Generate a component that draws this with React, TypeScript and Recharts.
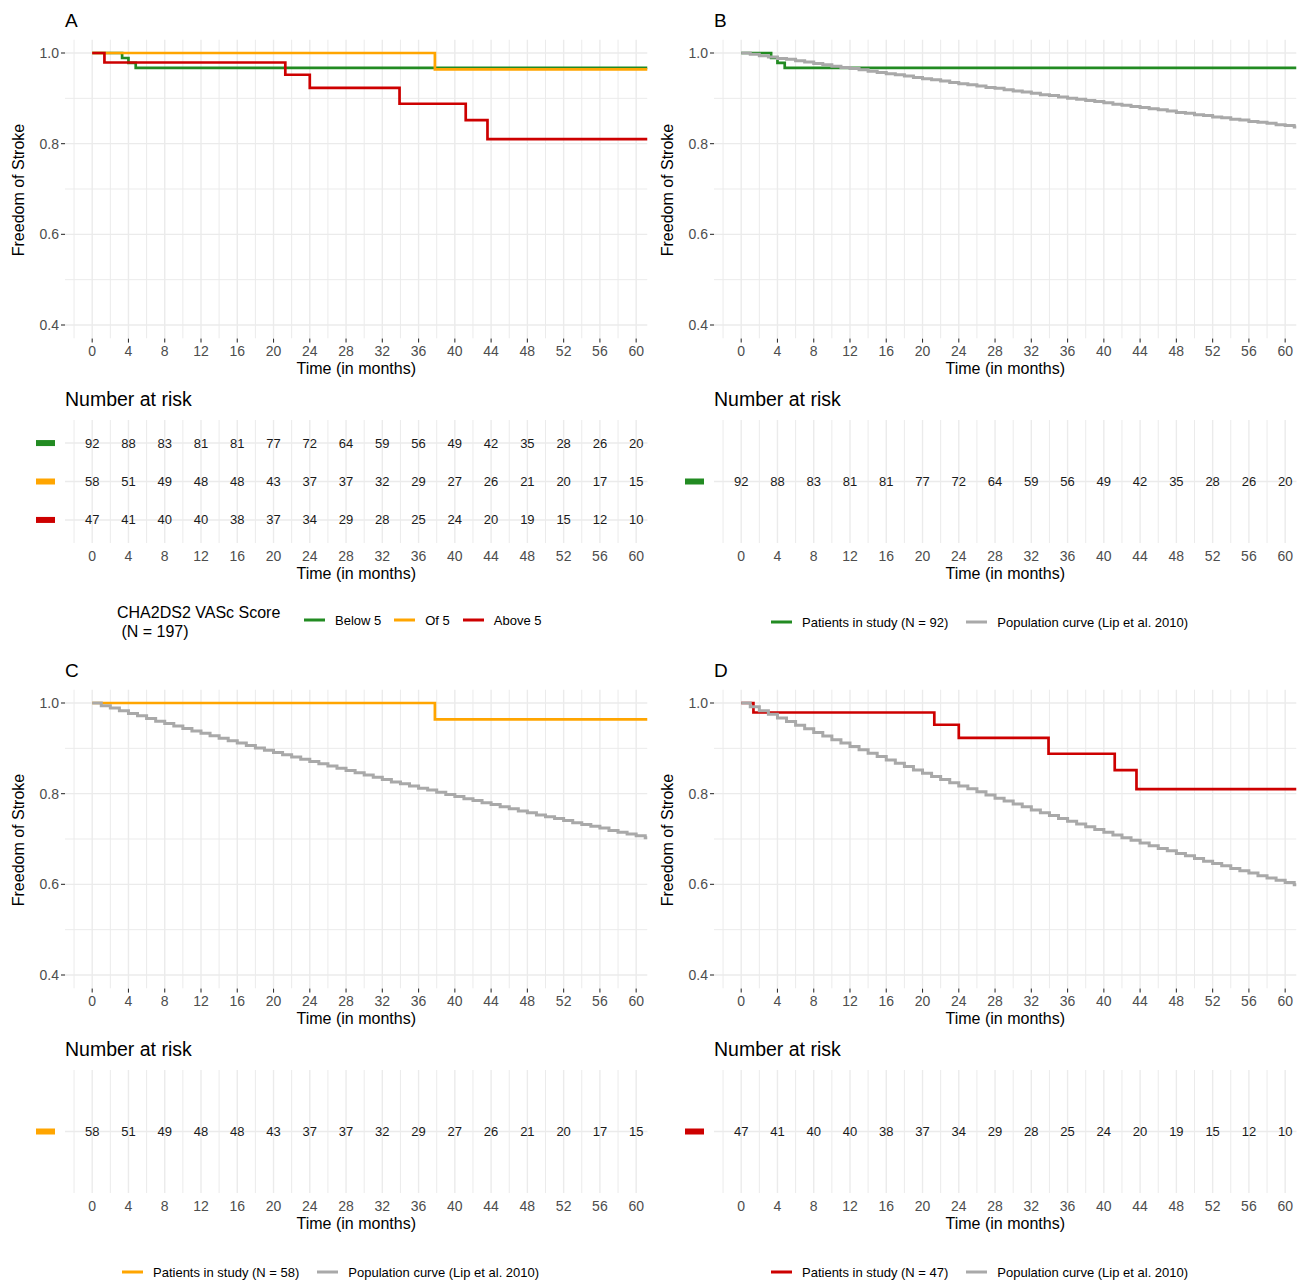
import React from 'react';
import { LineChart, Line, XAxis, YAxis, ReferenceLine, ScatterChart, Scatter } from 'recharts';

// ----------------------------------------------------------------------

const FONT = '"Liberation Sans", Arial, Helvetica, sans-serif';

const monthTicks = [0, 4, 8, 12, 16, 20, 24, 28, 32, 36, 40, 44, 48, 52, 56, 60];
const monthGrid = [-2, 0, 2, 4, 6, 8, 10, 12, 14, 16, 18, 20, 22, 24, 26, 28, 30, 32, 34, 36, 38, 40, 42, 44, 46, 48, 50, 52, 54, 56, 58, 60];
const survTicks = [0.4, 0.6, 0.8, 1.0];
const survGrid = [0.4, 0.5, 0.6, 0.7, 0.8, 0.9, 1.0];

const X_MIN = -3;
const X_MAX = 61.25;

// Kaplan-Meier steps: time (months) / freedom of stroke
const below5Times = [0, 3.3, 4.0, 4.8, X_MAX];
const below5Surv = [1, 0.989, 0.978, 0.967, 0.967];
const of5Times = [0, 37.8, X_MAX];
const of5Surv = [1, 0.964, 0.964];
const above5Times = [0, 1.35, 21.3, 24.0, 33.9, 41.2, 43.6, X_MAX];
const above5Surv = [1, 0.979, 0.952, 0.923, 0.888, 0.852, 0.81, 0.81];

// population curves (Lip et al. 2010), one value per month from 0 to 61
const popBelow5 = [
  1.0, 0.997, 0.994, 0.991, 0.988, 0.986, 0.983, 0.98, 0.977, 0.974, 0.971, 0.968, 0.966, 0.963, 0.96, 0.957,
  0.954, 0.952, 0.949, 0.946, 0.943, 0.941, 0.938, 0.935, 0.932, 0.93, 0.927, 0.924, 0.922, 0.919, 0.916, 0.914,
  0.911, 0.908, 0.906, 0.903, 0.9, 0.898, 0.895, 0.893, 0.89, 0.887, 0.885, 0.882, 0.88, 0.877, 0.875, 0.872,
  0.869, 0.867, 0.864, 0.862, 0.859, 0.857, 0.854, 0.852, 0.849, 0.847, 0.845, 0.842, 0.84, 0.837,
];
const popOf5 = [
  1.0, 0.994, 0.989, 0.983, 0.977, 0.972, 0.966, 0.96, 0.955, 0.949, 0.944, 0.938, 0.933, 0.928, 0.922, 0.917,
  0.912, 0.906, 0.901, 0.896, 0.891, 0.886, 0.881, 0.876, 0.871, 0.866, 0.861, 0.856, 0.851, 0.846, 0.841, 0.836,
  0.831, 0.826, 0.822, 0.817, 0.812, 0.808, 0.803, 0.798, 0.794, 0.789, 0.785, 0.78, 0.776, 0.771, 0.767, 0.762,
  0.758, 0.753, 0.749, 0.745, 0.741, 0.736, 0.732, 0.728, 0.724, 0.719, 0.715, 0.711, 0.707, 0.703,
];
const popAbove5 = [
  1.0, 0.992, 0.983, 0.975, 0.967, 0.959, 0.951, 0.943, 0.935, 0.927, 0.919, 0.912, 0.904, 0.897, 0.889, 0.882,
  0.874, 0.867, 0.86, 0.852, 0.845, 0.838, 0.831, 0.824, 0.817, 0.811, 0.804, 0.797, 0.79, 0.784, 0.777, 0.771,
  0.764, 0.758, 0.752, 0.745, 0.739, 0.733, 0.727, 0.721, 0.715, 0.709, 0.703, 0.697, 0.691, 0.685, 0.679, 0.674,
  0.668, 0.663, 0.657, 0.651, 0.646, 0.641, 0.635, 0.63, 0.625, 0.619, 0.614, 0.609, 0.604, 0.599,
];

// number at risk at 0, 4, ..., 60 months
const riskBelow5 = [92, 88, 83, 81, 81, 77, 72, 64, 59, 56, 49, 42, 35, 28, 26, 20];
const riskOf5 = [58, 51, 49, 48, 48, 43, 37, 37, 32, 29, 27, 26, 21, 20, 17, 15];
const riskAbove5 = [47, 41, 40, 40, 38, 37, 34, 29, 28, 25, 24, 20, 19, 15, 12, 10];

const GREEN = '#228B22';
const ORANGE = '#FFA500';
const RED = '#CD0000';
const GRAY = '#A9A9A9';

// ----------------------------------------------------------------------

interface Curve {
  key: string;
  data: { t: number; s: number }[];
  color: string;
  width: number;
}

interface RiskRow {
  color: string;
  values: number[];
}

const steps = (times: number[], surv: number[]) => times.map((t, i) => ({ t, s: surv[i] }));
const monthly = (vals: number[]) => [...vals.map((s, t) => ({ s, t })), { s: vals[vals.length - 1], t: X_MAX }];

const isMajorY = (v: number) => Math.abs(v * 5 - Math.round(v * 5)) < 1e-6;

const gridX = () =>
  monthGrid.map(v => (
    <ReferenceLine
      ifOverflow='hidden'
      key={'gx' + v}
      stroke='#EBEBEB'
      strokeWidth={v % 4 === 0 ? 1.4 : 1}
      x={v}
      zIndex={-100}
    />
  ));

const tickText = { fill: '#4D4D4D', fontSize: 14 };
const titleLabel = (value: string) => ({ fill: '#000', fontSize: 16, offset: 6, position: 'insideBottom' as const, value });

function Quadrant({ left, top, letter, curves, rows, legend }: {
  left: number;
  top: number;
  letter: string;
  curves: Curve[];
  rows: RiskRow[];
  legend: React.ReactNode;
}) {
  const n = rows.length;
  const rowTick = (props: any) => {
    const { x, y, payload } = props;
    const row = rows[n - payload.value];
    return <rect fill={row.color} height={6} width={19} x={x - 19} y={y - 3} />;
  };

  return (
    <div style={{ height: 650, left, position: 'absolute', top, width: 649 }}>
      <div style={{ color: '#000', fontSize: 19, left: 65, lineHeight: 1, position: 'absolute', top: 20, transform: 'translateY(-50%)' }}>
        {letter}
      </div>
      <div
        style={{
          color: '#000',
          fontSize: 16,
          left: 19,
          lineHeight: 1,
          position: 'absolute',
          top: 190,
          transform: 'translate(-50%, -50%) rotate(-90deg)',
          whiteSpace: 'nowrap',
        }}
      >
        Freedom of Stroke
      </div>

      <div style={{ left: 0, position: 'absolute', top: 0 }}>
        <LineChart height={380} margin={{ bottom: 0, left: 5, right: 1.5, top: 39.4 }} width={649}>
          {gridX()}
          {survGrid.map(v => (
            <ReferenceLine
              ifOverflow='hidden'
              key={'gy' + v}
              stroke='#EBEBEB'
              strokeWidth={isMajorY(v) ? 1.4 : 1}
              y={v}
              zIndex={-100}
            />
          ))}
          <XAxis
            allowDataOverflow
            axisLine={false}
            dataKey='t'
            domain={[X_MIN, X_MAX]}
            height={41.4}
            interval={0}
            label={titleLabel('Time (in months)')}
            tick={tickText}
            tickLine={{ stroke: '#333333', strokeWidth: 1.1 }}
            tickMargin={3}
            tickSize={4}
            ticks={monthTicks}
            type='number'
          />
          <YAxis
            allowDataOverflow
            axisLine={false}
            dataKey='s'
            domain={[0.37, 1.03]}
            interval={0}
            tick={tickText}
            tickFormatter={(v: number) => v.toFixed(1)}
            tickLine={{ stroke: '#333333', strokeWidth: 1.1 }}
            tickMargin={2}
            tickSize={4}
            ticks={survTicks}
            type='number'
            width={60}
          />
          {curves.map(c => (
            <Line
              activeDot={false}
              data={c.data}
              dataKey='s'
              dot={false}
              isAnimationActive={false}
              key={c.key}
              stroke={c.color}
              strokeWidth={c.width}
              type='stepAfter'
            />
          ))}
        </LineChart>
      </div>

      <div style={{ color: '#000', fontSize: 19.5, left: 65, lineHeight: 1, position: 'absolute', top: 400, transform: 'translateY(-50%)' }}>
        Number at risk
      </div>

      <div style={{ left: 0, position: 'absolute', top: 380 }}>
        <ScatterChart height={205} margin={{ bottom: 0, left: 5, right: 1.5, top: 40 }} width={649}>
          {gridX()}
          {rows.map((_, i) => (
            <ReferenceLine key={'ry' + i} stroke='#EBEBEB' strokeWidth={1.4} y={n - i} zIndex={-100} />
          ))}
          <XAxis
            allowDataOverflow
            axisLine={false}
            dataKey='t'
            domain={[X_MIN, X_MAX]}
            height={42}
            interval={0}
            label={titleLabel('Time (in months)')}
            tick={tickText}
            tickLine={false}
            tickMargin={8}
            tickSize={0}
            ticks={monthTicks}
            type='number'
          />
          <YAxis
            axisLine={false}
            dataKey='row'
            domain={[0.4, n + 0.6]}
            interval={0}
            tick={rowTick}
            tickLine={false}
            tickMargin={10}
            tickSize={0}
            ticks={rows.map((_, i) => i + 1)}
            type='number'
            width={60}
          />
          {rows.map((r, i) => (
            <Scatter
              data={monthTicks.map((t, k) => ({ n: r.values[k], row: n - i, t }))}
              isAnimationActive={false}
              key={'rs' + i}
              shape={(p: any) => (
                <text dy='0.35em' fill='#1A1A1A' fontSize={13} textAnchor='middle' x={p.cx} y={p.cy}>
                  {p.payload.n}
                </text>
              )}
            />
          ))}
        </ScatterChart>
      </div>

      {legend}
    </div>
  );
}

const LegendKey = ({ color }: { color: string }) => (
  <span style={{ background: color, display: 'inline-block', height: 3, marginRight: 10, width: 21 }} />
);

const LegendItem = ({ color, text, gap }: { color: string; text: string; gap: number }) => (
  <span style={{ alignItems: 'center', display: 'inline-flex', marginRight: gap }}>
    <LegendKey color={color} />
    <span style={{ whiteSpace: 'nowrap' }}>{text}</span>
  </span>
);

const studyLegend = (color: string, n: number) => (
  <div
    style={{
      alignItems: 'center',
      color: '#000',
      display: 'flex',
      fontSize: 13,
      left: 122,
      lineHeight: 1,
      position: 'absolute',
      top: 622,
      transform: 'translateY(-50%)',
    }}
  >
    <LegendItem color={color} gap={18} text={`Patients in study (N = ${n})`} />
    <LegendItem color={GRAY} gap={0} text='Population curve (Lip et al. 2010)' />
  </div>
);

const scoreLegend = (
  <div style={{ color: '#000', left: 117, position: 'absolute', top: 603 }}>
    <div style={{ fontSize: 16, lineHeight: '19px', whiteSpace: 'pre' }}>{'CHA2DS2 VASc Score\n (N = 197)'}</div>
    <div
      style={{
        alignItems: 'center',
        display: 'flex',
        fontSize: 13,
        left: 187,
        lineHeight: 1,
        position: 'absolute',
        top: 17,
        transform: 'translateY(-50%)',
      }}
    >
      <LegendItem color={GREEN} gap={13} text='Below 5' />
      <LegendItem color={ORANGE} gap={13} text='Of 5' />
      <LegendItem color={RED} gap={0} text='Above 5' />
    </div>
  </div>
);

export default function App() {
  const PW = 2.7;
  const GW = 3;
  return (
    <div style={{ background: '#fff', fontFamily: FONT, height: 1281, left: 0, overflow: 'hidden', position: 'absolute', top: 0, width: 1297 }}>
      <Quadrant
        curves={[
          { color: GREEN, data: steps(below5Times, below5Surv), key: 'g', width: PW },
          { color: ORANGE, data: steps(of5Times, of5Surv), key: 'o', width: PW },
          { color: RED, data: steps(above5Times, above5Surv), key: 'r', width: PW },
        ]}
        left={0}
        legend={scoreLegend}
        letter='A'
        rows={[
          { color: GREEN, values: riskBelow5 },
          { color: ORANGE, values: riskOf5 },
          { color: RED, values: riskAbove5 },
        ]}
        top={0}
      />
      <Quadrant
        curves={[
          { color: GREEN, data: steps(below5Times, below5Surv), key: 'g', width: PW },
          { color: GRAY, data: monthly(popBelow5), key: 'p', width: GW },
        ]}
        left={649}
        legend={studyLegend(GREEN, 92)}
        letter='B'
        rows={[{ color: GREEN, values: riskBelow5 }]}
        top={0}
      />
      <Quadrant
        curves={[
          { color: ORANGE, data: steps(of5Times, of5Surv), key: 'o', width: PW },
          { color: GRAY, data: monthly(popOf5), key: 'p', width: GW },
        ]}
        left={0}
        legend={studyLegend(ORANGE, 58)}
        letter='C'
        rows={[{ color: ORANGE, values: riskOf5 }]}
        top={650}
      />
      <Quadrant
        curves={[
          { color: RED, data: steps(above5Times, above5Surv), key: 'r', width: PW },
          { color: GRAY, data: monthly(popAbove5), key: 'p', width: GW },
        ]}
        left={649}
        legend={studyLegend(RED, 47)}
        letter='D'
        rows={[{ color: RED, values: riskAbove5 }]}
        top={650}
      />
    </div>
  );
}
